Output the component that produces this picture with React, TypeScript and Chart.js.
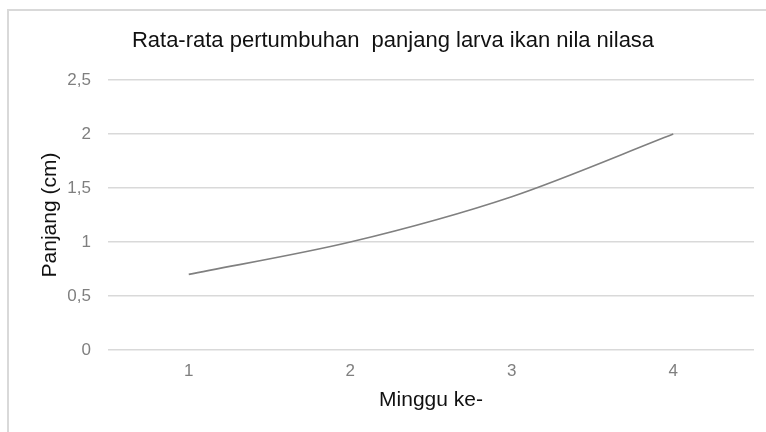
import React, { useEffect, useRef } from "react";
import { Chart, registerables } from "chart.js";

Chart.register(...registerables);

const categories = ["1", "2", "3", "4"];
const panjang = [0.7, 1.0, 1.42, 2.0];
const yMin = 0;
const yMax = 2.5;
const yStep = 0.5;

const titleText = "Rata-rata pertumbuhan  panjang larva ikan nila nilasa";
const xTitle = "Minggu ke-";
const yTitle = "Panjang (cm)";

const FONT = "'Liberation Sans', Arial, sans-serif";

const framePlugin = {
  id: "frame",
  beforeDraw(chart: any) {
    const ctx = chart.ctx;
    ctx.save();
    ctx.fillStyle = "#ffffff";
    ctx.fillRect(0, 0, chart.width, chart.height);
    ctx.strokeStyle = "#d9d9d9";
    ctx.lineWidth = 2;
    ctx.beginPath();
    ctx.moveTo(8, chart.height);
    ctx.lineTo(8, 10);
    ctx.lineTo(chart.width, 10);
    ctx.stroke();
    ctx.restore();
  },
};

export default function App() {
  const ref = useRef<HTMLCanvasElement | null>(null);

  useEffect(() => {
    if (!ref.current) return;
    const chart = new Chart(ref.current, {
      type: "line",
      data: {
        labels: categories,
        datasets: [
          {
            data: panjang,
            borderColor: "#808080",
            borderWidth: 1.6,
            pointRadius: 0,
            tension: 0.3,
            fill: false,
          },
        ],
      },
      plugins: [framePlugin],
      options: {
        animation: false,
        responsive: true,
        maintainAspectRatio: false,
        layout: { padding: { left: 32, right: 12, top: 0, bottom: 0 } },
        plugins: {
          legend: { display: false },
          tooltip: { enabled: false },
          title: {
            display: true,
            text: titleText,
            color: "#111111",
            font: { family: FONT, size: 22, weight: "normal" },
            padding: { top: 28, bottom: 25.6 },
          },
        },
        scales: {
          x: {
            offset: true,
            grid: { display: false, drawTicks: false },
            border: { display: false },
            ticks: {
              color: "#7f7f7f",
              padding: 11,
              font: { family: FONT, size: 17 },
            },
            title: {
              display: true,
              text: xTitle,
              color: "#111111",
              font: { family: FONT, size: 21 },
              padding: { top: 0, bottom: 19 },
            },
            afterFit(scale: any) {
              scale.height = 82;
            },
          },
          y: {
            min: yMin,
            max: yMax,
            grid: { color: "#d9d9d9", lineWidth: 1.6, drawTicks: false },
            border: { display: false },
            ticks: {
              stepSize: yStep,
              color: "#7f7f7f",
              padding: 17,
              font: { family: FONT, size: 17 },
              callback: (v: any) => String(v).replace(".", ","),
            },
            title: {
              display: true,
              text: yTitle,
              color: "#111111",
              font: { family: FONT, size: 21 },
              padding: { top: 6, bottom: 0 },
            },
            afterFit(scale: any) {
              scale.width = 76;
            },
          },
        },
      },
    });
    return () => chart.destroy();
  }, []);

  return (
    <div
      style={{
        position: "fixed",
        left: 0,
        top: 0,
        width: 766,
        height: 432,
        background: "#fff",
      }}
    >
      <canvas ref={ref} />
    </div>
  );
}
